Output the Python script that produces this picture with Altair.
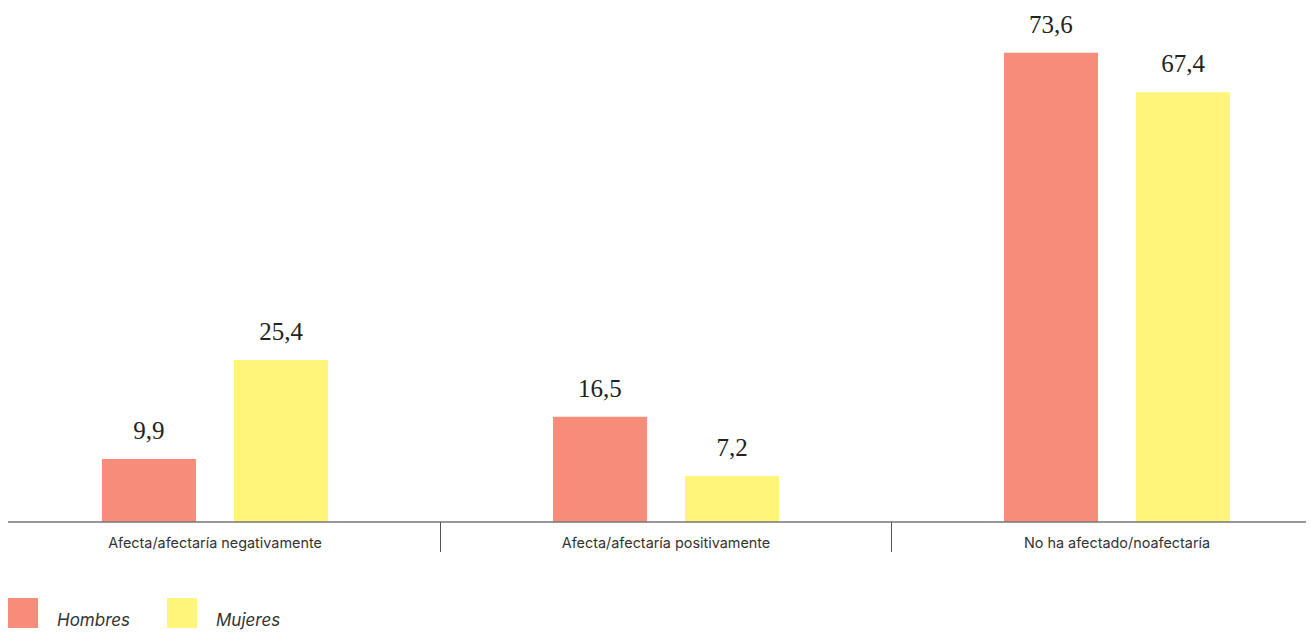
import altair as alt
import pandas as pd

categorias = ["Afecta/afectaría negativamente", "Afecta/afectaría positivamente", "No ha afectado/noafectaría"]
series = ["Hombres", "Mujeres"]
hombres = [9.9, 16.5, 73.6]
mujeres = [25.4, 7.2, 67.4]
colores = ["#F88C7B", "#FFF57A"]

rows = []
for c, h, m in zip(categorias, hombres, mujeres):
    rows.append({"cat": c, "sexo": "Hombres", "valor": h})
    rows.append({"cat": c, "sexo": "Mujeres", "valor": m})
df = pd.DataFrame(rows)
df["etiqueta"] = df["valor"].map(lambda v: f"{v:.1f}".replace(".", ","))
seps_df = pd.DataFrame({"cat": categorias[1:]})

W = 1298
H = 510

x_scale = alt.Scale(domain=categorias, range=[-18.5, 1334.5], paddingInner=0, paddingOuter=0)
xoff_scale = alt.Scale(domain=series, paddingInner=0.288, paddingOuter=0.852)
y_scale = alt.Scale(domain=[0, 80], nice=False)

base = alt.Chart(df)

bars = base.mark_bar().encode(
    x=alt.X("cat:N", scale=x_scale, sort=categorias,
            axis=alt.Axis(title=None, domain=False, ticks=False, labelPadding=14,
                          labelFont="Inter", labelFontSize=14.4, labelColor="#333333",
                          labelAngle=0, labelLimit=400)),
    xOffset=alt.XOffset("sexo:N", scale=xoff_scale, sort=series),
    y=alt.Y("valor:Q", scale=y_scale, axis=None),
    color=alt.Color("sexo:N", scale=alt.Scale(domain=series, range=colores),
                    legend=alt.Legend(title=None, orient="none", legendX=0, legendY=586,
                                      direction="horizontal", symbolType="square",
                                      symbolSize=900, symbolStrokeWidth=0, symbolOpacity=1,
                                      labelFont="Inter", labelFontSize=17, labelFontStyle="italic",
                                      labelColor="#333333", labelOffset=19, columnPadding=36,
                                      labelBaseline="top", padding=0)),
)

texts = base.mark_text(font="Liberation Serif", fontSize=25, color="#222222",
                       baseline="alphabetic", dy=-20).encode(
    x=alt.X("cat:N", scale=x_scale, sort=categorias),
    xOffset=alt.XOffset("sexo:N", scale=xoff_scale, sort=series),
    y=alt.Y("valor:Q", scale=y_scale),
    text="etiqueta:N",
)

axis_line = alt.Chart(seps_df).mark_rule(color="#777777", strokeWidth=1.2).encode(
    x=alt.value(0), x2=alt.value(W), y=alt.value(H)
)

seps = alt.Chart(seps_df).mark_rule(color="#555555", strokeWidth=1).encode(
    x=alt.X("cat:N", scale=x_scale, sort=categorias, bandPosition=0),
    y=alt.value(H), y2=alt.value(H + 30),
)

chart = alt.layer(bars, texts, axis_line, seps).properties(
    width=W, height=H,
    autosize=alt.AutoSizeParams(type="none"),
    padding={"left": 0, "top": 4, "right": 0, "bottom": 112},
).configure_view(stroke=None)

chart.save("out.html", embed_options={"renderer": "svg", "actions": False})
